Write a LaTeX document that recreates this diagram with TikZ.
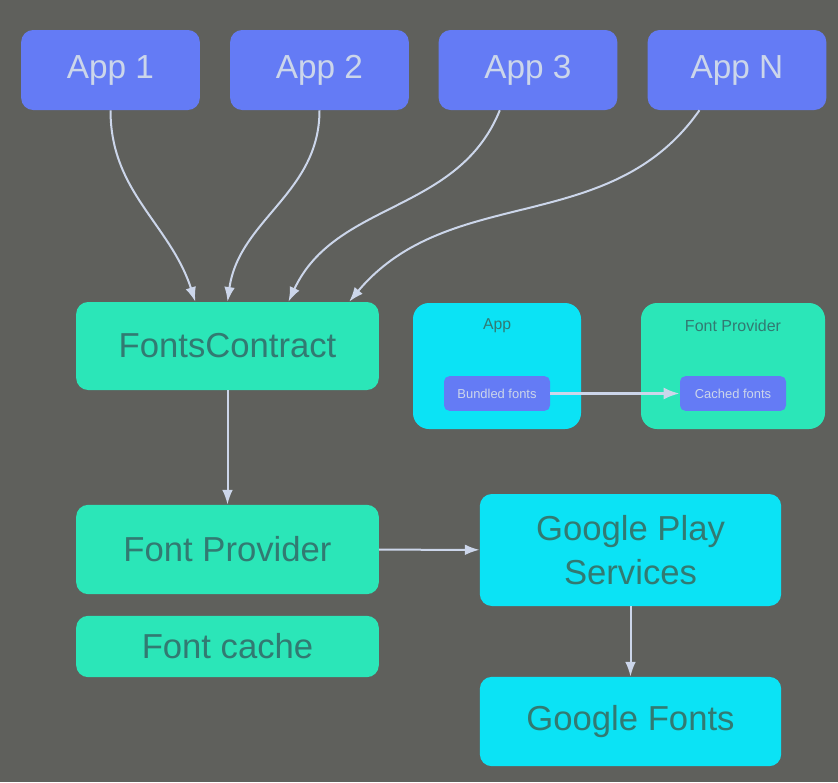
\documentclass[tikz,border=0pt]{standalone}
\usepackage{fontspec}
\setmainfont{Liberation Sans}
\usetikzlibrary{arrows.meta}
\definecolor{bgcol}{HTML}{5F605C}
\definecolor{appblue}{HTML}{647BF5}
\definecolor{provgreen}{HTML}{2BE6B8}
\definecolor{svccyan}{HTML}{0BE3F5}
\definecolor{darktext}{HTML}{327A72}
\definecolor{lighttext}{HTML}{CCD6EA}
\tikzstyle{app}=[rectangle, rounded corners=9pt, fill=appblue, text=lighttext, minimum width=134pt, minimum height=60pt, font=\fontsize{25}{30}\selectfont]
\tikzstyle{prov}=[rectangle, rounded corners=9pt, fill=provgreen, text=darktext, minimum width=227pt, font=\fontsize{26}{33}\selectfont]
\tikzstyle{svc}=[prov, fill=svccyan, minimum width=226pt, align=center]
\tikzstyle{inner}=[rectangle, rounded corners=4pt, fill=appblue, text=lighttext, minimum width=79.5pt, minimum height=26pt, font=\fontsize{9.7}{11}\selectfont]
\tikzstyle{flow}=[draw=lighttext, line width=1.5pt, -{Latex[length=11pt, width=8pt]}]

\begin{document}
\begin{tikzpicture}[x=0.75pt, y=-0.75pt]
                    \fill[bgcol] (0,0) rectangle (838,782);
                    \useasboundingbox (0,0) rectangle (838,782);
                    % apps on top
                    \node[app] (app1) at (110.5, 70) {App 1};
                    \node[app] (app2) at (319.5, 70) {App 2};
                    \node[app] (app3) at (528, 70) {App 3};
                    \node[app] (appN) at (737, 70) {App N};
                    % left column
                    \node[prov, minimum height=66pt] (fc) at (227.5, 346) {FontsContract};
                    \node[prov, minimum height=67pt] (fp) at (227.5, 549.5) {Font Provider};
                    \node[prov, minimum height=46pt] (cache) at (227.5, 646.5) {Font cache};
                    % right column
                    \node[svc, minimum height=84pt] (gps) at (630.5, 550) {Google Play\\Services};
                    \node[svc, minimum height=67pt] (gf) at (630.5, 721.5) {Google Fonts};
                    % small legend
                    \node[rectangle, rounded corners=12pt, fill=svccyan, minimum width=126pt, minimum height=94.5pt] (appbox) at (497, 366) {};
                    \node[rectangle, rounded corners=12pt, fill=provgreen, minimum width=138pt, minimum height=94.5pt] (fpbox) at (733, 366) {};
                    \node[text=darktext, font=\fontsize{11.8}{14}\selectfont] (apptitle) at (497, 326) {App};
                    \node[text=darktext, font=\fontsize{12}{14}\selectfont] (fptitle) at (733, 326) {Font Provider};
                    \node[inner] (bundled) at (497, 393.5) {Bundled fonts};
                    \node[inner] (cached) at (733, 393.5) {Cached fonts};
                    % connectors
                    \draw[flow] (app1.south) to[out=-90, in=108] (fc.126);
                    \draw[flow] (app2.south) to[out=-90, in=82] (fc.90);
                    \draw[flow] (app3.-125) to[out=-112, in=65] (fc.36.5);
                    \draw[flow] (appN.-133) to[out=-125, in=50] (fc.20);
                    \draw[flow] (fc) -- (fp);
                    \draw[flow] (fp) -- (gps);
                    \draw[flow] (gps) -- (gf);
                    \draw[flow, line width=2.2pt, -{Latex[length=12pt, width=9pt]}] (bundled) -- (cached);
                \end{tikzpicture}
\end{document}
